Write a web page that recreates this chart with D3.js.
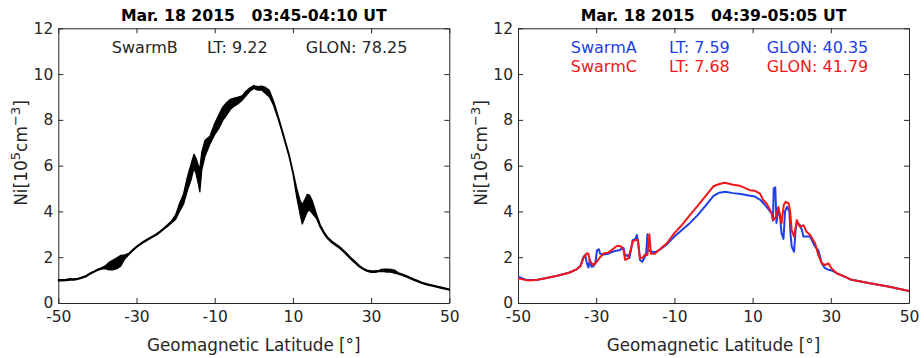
<!DOCTYPE html>
<html>
<head>
<meta charset="utf-8">
<script src="https://cdn.jsdelivr.net/npm/d3@7"></script>
<style>
  body { margin: 0; background: #fff; }
  text { font-family: "DejaVu Sans", sans-serif; fill: #262626; white-space: pre; }
</style>
</head>
<body>
<svg id="chart" width="924" height="358"></svg>
<script>
// SwarmB, 03:45-04:10 UT (min / max envelope of the noisy trace)
var latB = [-50, -49, -48, -47, -46, -45, -44, -43, -42, -41, -40, -39, -38, -37, -36, -35, -34, -33, -32, -31,
  -30, -29, -28, -27, -26, -25, -24, -23, -22, -21, -20, -19, -18, -17, -16, -15.3, -14.7, -14.2, -13.8, -13.3,
  -12.5, -11.2, -10, -9, -8, -7, -6, -5, -4, -3, -2, -1, 0, 1, 2, 3, 4, 5, 6, 7, 8, 9, 10, 11, 11.8, 12.4, 13,
  13.7, 14.3, 15, 16, 17, 18, 19, 20, 21, 22, 23, 24, 25, 26, 27, 28, 29, 30, 31, 32, 33, 34, 35, 36, 37, 38,
  39, 40, 41, 42, 43, 44, 45, 46, 47, 48, 49, 50];
var niBLo = [0.97, 0.97, 0.98, 1.0, 1.0, 1.03, 1.08, 1.14, 1.25, 1.33, 1.42, 1.48, 1.5, 1.45, 1.45, 1.5, 1.62, 1.92, 2.1, 2.27,
  2.42, 2.55, 2.66, 2.76, 2.86, 2.95, 3.08, 3.22, 3.35, 3.5, 3.65, 4.0, 4.3, 4.9, 5.4, 5.9, 5.6, 5.2, 4.85, 5.8,
  6.4, 6.95, 7.35, 7.6, 7.95, 8.2, 8.45, 8.6, 8.7, 8.85, 9.05, 9.25, 9.37, 9.3, 9.3, 9.15, 9.0, 8.65, 8.15, 7.6, 7.0, 6.4, 5.65, 4.6, 3.9, 3.45, 3.7,
  4.0, 4.05, 3.9, 3.7, 3.3, 3.0, 2.78, 2.62, 2.5, 2.38, 2.22, 2.05, 1.88, 1.72, 1.57, 1.46, 1.38, 1.34, 1.34, 1.37, 1.38, 1.35, 1.35, 1.3, 1.26, 1.2,
  1.14, 1.06, 0.99, 0.92, 0.85, 0.8, 0.76, 0.72, 0.68, 0.64, 0.6, 0.56];
var niBHi = [1.02, 1.02, 1.03, 1.07, 1.05, 1.08, 1.13, 1.19, 1.3, 1.38, 1.47, 1.54, 1.62, 1.78, 1.88, 1.98, 2.08, 2.1, 2.17, 2.33,
  2.48, 2.6, 2.72, 2.82, 2.92, 3.01, 3.14, 3.28, 3.43, 3.6, 3.85, 4.35, 4.75, 5.5, 6.1, 6.5, 6.3, 6.0, 5.9, 6.6,
  7.1, 7.3, 7.85, 8.2, 8.55, 8.75, 8.9, 8.95, 9.0, 9.05, 9.25, 9.4, 9.5, 9.45, 9.48, 9.42, 9.28, 8.85, 8.3, 7.72, 7.12, 6.52, 5.78, 5.0, 4.5, 4.3, 4.5,
  4.75, 4.7, 4.45, 3.9, 3.42, 3.1, 2.86, 2.7, 2.58, 2.46, 2.3, 2.13, 1.96, 1.8, 1.64, 1.52, 1.44, 1.4, 1.4, 1.43, 1.48, 1.48, 1.47, 1.44, 1.32, 1.26,
  1.2, 1.12, 1.05, 0.98, 0.9, 0.86, 0.81, 0.77, 0.73, 0.69, 0.65, 0.61];

// SwarmA, 04:39-05:05 UT
var latA = [-50, -49, -48, -47, -45, -43, -40, -37, -35, -34, -33.3, -32.8, -32.4, -32, -31.6, -31.2, -30.7, -30.2, -29.8, -29.3,
  -29, -28, -27, -26, -25, -24, -23.5, -23, -22.6, -22, -21.5, -21, -20.7, -20, -19.6, -19.2, -18.8, -18.2, -17.6, -17.2,
  -16.9, -16.6, -16, -15, -14, -12, -10, -8, -6, -4, -2, 0, 1.5, 3, 5, 7, 9, 10.6, 12, 13.6,
  14.9, 15.2, 15.4, 15.8, 16.1, 16.6, 17, 17.4, 17.9, 18.3, 18.8, 19.4, 19.7, 20, 20.6, 21, 21.3, 22.1, 22.6, 23,
  23.8, 24.7, 26, 26.8, 27.7, 28.5, 29.4, 30.2, 31.5, 34, 35, 40, 45, 50];
var niA = [1.15, 1.08, 1.02, 1.0, 1.02, 1.08, 1.19, 1.32, 1.47, 1.62, 2.0, 2.1, 1.74, 1.55, 1.9, 1.58, 1.6, 1.75, 2.3, 2.35,
  2.15, 2.12, 2.15, 2.22, 2.28, 2.3, 2.38, 2.4, 2.05, 2.1, 1.97, 2.4, 2.75, 2.8, 2.97, 2.6, 1.88, 1.8, 2.0, 2.2,
  3.0, 2.3, 2.25, 2.22, 2.3, 2.55, 2.9, 3.2, 3.5, 3.85, 4.25, 4.68, 4.82, 4.86, 4.8, 4.76, 4.7, 4.65, 4.5, 4.2,
  3.9, 3.6, 5.0, 5.05, 3.5, 4.1, 3.8, 3.05, 2.8, 4.0, 4.2, 4.0, 3.0, 2.46, 2.24, 3.2, 3.5, 3.4, 3.2, 2.9,
  2.9, 2.9, 2.46, 2.3, 1.73, 1.52, 1.45, 1.42, 1.3, 1.12, 1.03, 0.86, 0.71, 0.52];

// SwarmC, 04:39-05:05 UT
var latC = [-50, -48, -47, -45, -43, -40, -37, -35, -34, -33.3, -32.4, -32, -31.6, -30.7, -29.9, -29, -28, -27, -26, -25,
  -24.4, -23.5, -23, -22.6, -21.8, -21, -20.6, -20, -19.4, -18.8, -18, -17.6, -16.9, -16.4, -16, -15, -14, -12, -10, -8,
  -6, -4, -2, 0, 1.5, 2.9, 5, 6.8, 9.3, 10.6, 11.9, 12.7, 13.6, 14.9, 15.3, 16, 16.6, 17.4, 18, 18.5,
  19.2, 19.6, 20, 20.6, 21.3, 22.1, 23, 23.8, 24.7, 26, 26.8, 27.7, 28.5, 29.4, 30.2, 31.5, 34, 35, 40, 45, 50];
var niC = [1.08, 1.0, 0.98, 1.02, 1.08, 1.19, 1.32, 1.47, 1.62, 1.95, 2.17, 2.15, 1.8, 1.66, 1.8, 2.0, 2.17, 2.2, 2.31, 2.46,
  2.5, 2.46, 2.3, 1.88, 1.95, 2.45, 2.7, 2.75, 2.75, 1.95, 2.0, 2.1, 2.1, 3.0, 2.15, 2.15, 2.3, 2.6, 3.05, 3.42,
  3.85, 4.25, 4.68, 5.1, 5.2, 5.25, 5.17, 5.12, 4.93, 4.9, 4.78, 4.5, 4.35, 3.91, 3.62, 3.77, 4.2, 3.49, 4.3, 4.42,
  4.35, 4.0, 3.18, 2.9, 3.62, 3.33, 3.4, 3.11, 2.97, 2.6, 2.1, 1.73, 1.66, 1.73, 1.51, 1.3, 1.12, 1.03, 0.86, 0.71, 0.52];

var xTicks = [-50, -30, -10, 10, 30, 50];
var yTicks = [0, 2, 4, 6, 8, 10, 12];
var titles = ['Mar. 18 2015   03:45-04:10 UT', 'Mar. 18 2015   04:39-05:05 UT'];

// text labels placed in data coordinates: [lat, Ni, text]
var notesB = [[-36.3, 10.9, 'SwarmB'], [-12, 10.9, 'LT: 9.22'], [13.3, 10.9, 'GLON: 78.25']];
var notesA = [[-36.5, 10.9, 'SwarmA'], [-11.4, 10.9, 'LT: 7.59'], [13.6, 10.9, 'GLON: 40.35']];
var notesC = [[-36.5, 10.1, 'SwarmC'], [-11.4, 10.1, 'LT: 7.68'], [13.6, 10.1, 'GLON: 41.79']];

var BLUE = '#1e40e8';
var RED = '#f01818';
var AXIS = '#262626';

var svg = d3.select('#chart');
var plotTop = 28.3, plotBottom = 303;

function makePanel(left, right, title) {
  var g = svg.append('g');
  var x = d3.scaleLinear().domain([-50, 50]).range([left, right]);
  var y = d3.scaleLinear().domain([0, 12]).range([plotBottom, plotTop]);
  var fmt = function(d) { return String(d); };

  g.append('g').attr('transform', 'translate(0,' + plotBottom + ')')
    .call(d3.axisBottom(x).tickValues(xTicks).tickFormat(fmt).tickSizeInner(-5).tickSizeOuter(0).tickPadding(8));
  g.append('g').attr('transform', 'translate(0,' + plotTop + ')')
    .call(d3.axisTop(x).tickValues(xTicks).tickSizeInner(-5).tickSizeOuter(0).tickFormat(''));
  g.append('g').attr('transform', 'translate(' + left + ',0)')
    .call(d3.axisLeft(y).tickValues(yTicks).tickFormat(fmt).tickSizeInner(-5).tickSizeOuter(0).tickPadding(5));
  g.append('g').attr('transform', 'translate(' + right + ',0)')
    .call(d3.axisRight(y).tickValues(yTicks).tickSizeInner(-5).tickSizeOuter(0).tickFormat(''));

  g.selectAll('.domain, .tick line').attr('stroke', AXIS).attr('stroke-width', 1);
  g.selectAll('.tick text').attr('font-size', 15.5).attr('fill', AXIS)
    .attr('font-family', '"DejaVu Sans", sans-serif');

  var cx = (left + right) / 2;
  g.append('text').attr('x', cx).attr('y', 20.5).attr('text-anchor', 'middle')
    .attr('font-size', 15.7).attr('font-weight', 'bold').style('fill', '#000').text(title);

  g.append('text').attr('x', cx).attr('y', 351).attr('text-anchor', 'middle')
    .attr('font-size', 16.8).text('Geomagnetic Latitude [°]');

  var yl = g.append('text')
    .attr('transform', 'translate(' + (left - 31) + ',153) rotate(-90)')
    .attr('text-anchor', 'middle').attr('font-size', 17);
  yl.append('tspan').text('Ni[10');
  yl.append('tspan').attr('dy', -7).attr('font-size', 13).text('5');
  yl.append('tspan').attr('dy', 7).text('cm');
  yl.append('tspan').attr('dy', -7).attr('font-size', 13).text('\u22123');
  yl.append('tspan').attr('dy', 7).text(']');

  return { g: g, x: x, y: y };
}

function addNotes(p, notes, color) {
  p.g.selectAll(null).data(notes).enter().append('text')
    .attr('x', function(d) { return p.x(d[0]); })
    .attr('y', function(d) { return p.y(d[1]); })
    .attr('font-size', 16)
    .style('fill', color)
    .text(function(d) { return d[2]; });
}

// Left panel: SwarmB
var pB = makePanel(58.3, 449.3, titles[0]);
var bandB = d3.range(latB.length).map(function(i) { return [latB[i], niBLo[i], niBHi[i]]; });
pB.g.append('path')
  .datum(bandB)
  .attr('d', d3.area()
    .x(function(d) { return pB.x(d[0]); })
    .y0(function(d) { return pB.y(d[1]); })
    .y1(function(d) { return pB.y(d[2]); }))
  .attr('fill', '#000').attr('stroke', '#000').attr('stroke-width', 1.2).attr('stroke-linejoin', 'round');
addNotes(pB, notesB, AXIS);

// Right panel: SwarmA and SwarmC
var pAC = makePanel(518, 909, titles[1]);
var line = d3.line()
  .x(function(d) { return pAC.x(d[0]); })
  .y(function(d) { return pAC.y(d[1]); });
pAC.g.append('path')
  .datum(latA.map(function(v, i) { return [v, niA[i]]; }))
  .attr('d', line).attr('fill', 'none').attr('stroke', BLUE).attr('stroke-width', 2).attr('stroke-linejoin', 'round');
pAC.g.append('path')
  .datum(latC.map(function(v, i) { return [v, niC[i]]; }))
  .attr('d', line).attr('fill', 'none').attr('stroke', RED).attr('stroke-width', 2).attr('stroke-linejoin', 'round');
addNotes(pAC, notesA, BLUE);
addNotes(pAC, notesC, RED);
</script>
</body>
</html>
